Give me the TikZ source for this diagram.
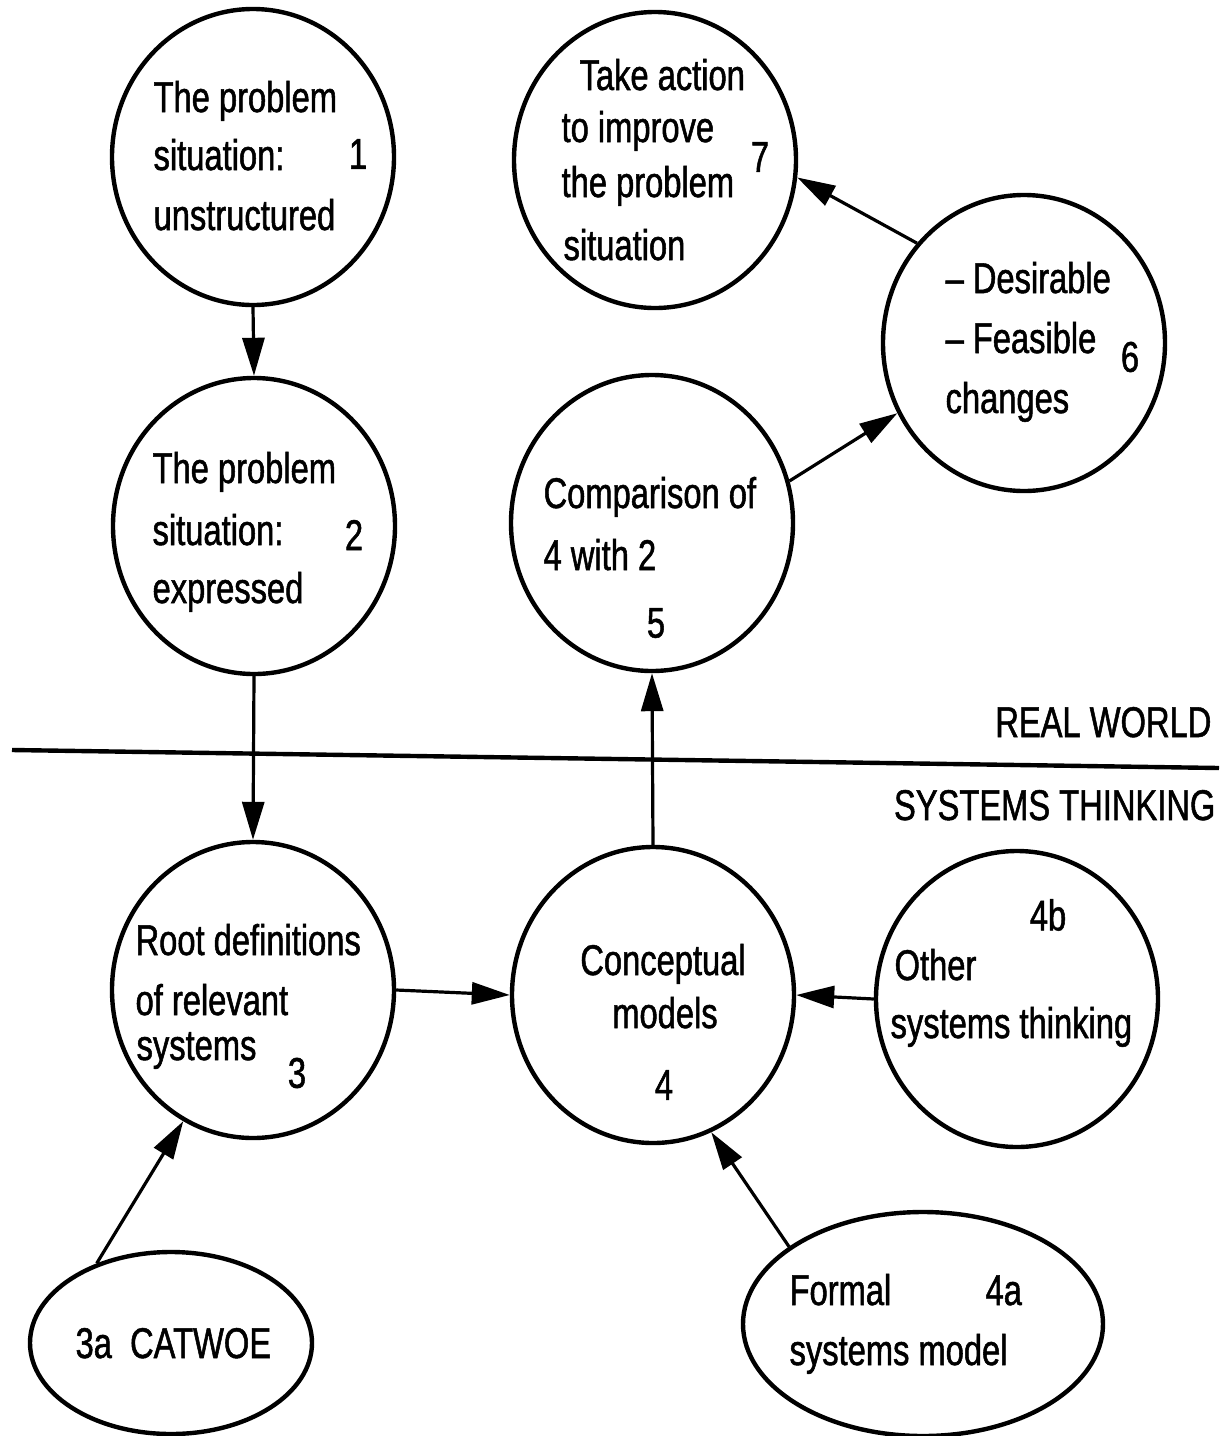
\documentclass[tikz,border=0pt]{standalone}
\usepackage{fontspec}
\setmainfont{Liberation Sans}[FakeStretch=0.76,FakeBold=1.2]
\usepackage{tikz}
\usetikzlibrary{arrows.meta,positioning,shapes,calc}

\newcommand{\sstfont}{\fontsize{21.5pt}{29pt}\selectfont}

\begin{document}
\begin{tikzpicture}[x=0.5pt, y=-0.5pt, >={Triangle[length=19pt,width=11pt]}, line width=1.6pt,
main node/.style={ellipse,draw,line width=2.2pt,minimum width=141pt,minimum height=148pt,inner sep=0pt},
txt/.style={anchor=base west,inner sep=0pt,font=\sstfont},
num/.style={anchor=center,inner sep=0pt,font=\sstfont}]
\useasboundingbox (0,0) rectangle (1223,1436);
\begin{scope}
\node[main node] (c1) at (253,157) {};
\node[main node] (c2) at (254,526) {};
\node[main node] (c7) at (655,160) {};
\node[main node] (c6) at (1024,343) {};
\node[main node] (c5) at (652,523) {};
\node[main node] (c3) at (253,990) {};
\node[main node] (c4) at (653,995) {};
\node[main node] (c4b) at (1017,999) {};
\node[main node,minimum width=141pt,minimum height=91pt] (e3a) at (171,1343) {};
\node[main node,minimum width=180pt,minimum height=112pt] (e4a) at (923,1324) {};
\end{scope}
% texts
\node[txt] (t1a) at (152,112) {The problem};
\node[txt] (t1b) at (152,170) {situation:};
\node[txt] (t1c) at (152,230) {unstructured};
\node[num] (n1) at (358,154) {1};
\node[txt] (t2a) at (151,483) {The problem};
\node[txt] (t2b) at (151,545) {situation:};
\node[txt] (t2c) at (151,603) {expressed};
\node[num] (n2) at (354,535) {2};
\node[txt] (t7a) at (578,90) {Take action};
\node[txt] (t7b) at (560,142) {to improve};
\node[txt] (t7c) at (560,197) {the problem};
\node[txt] (t7d) at (562,260) {situation};
\node[num] (n7) at (760,157) {7};
\node[txt] (t6a) at (944,293) {– Desirable};
\node[txt] (t6b) at (944,353) {– Feasible};
\node[txt] (t6c) at (944,413) {changes};
\node[num] (n6) at (1130,357) {6};
\node[txt] (t5a) at (542,508) {Comparison of};
\node[txt] (t5b) at (542,570) {4 with 2};
\node[num] (n5) at (656,623) {5};
\node[txt] (t3a) at (134,955) {Root definitions};
\node[txt] (t3b) at (134,1015) {of relevant};
\node[txt] (t3c) at (135,1060) {systems};
\node[num] (n3) at (297,1073) {3};
\node[txt,anchor=base] (t4a) at (663,975) {Conceptual};
\node[txt,anchor=base] (t4b) at (665,1028) {models};
\node[num] (n4) at (664,1085) {4};
\node[num] (n4b) at (1048,915) {4b};
\node[txt] (t4ba) at (893,980) {Other};
\node[txt] (t4bb) at (889,1038) {systems thinking};
\node[txt] (t3aa) at (74,1358) {3a~~CATWOE};
\node[txt] (t4aa) at (788,1305) {Formal};
\node[txt] (n4a) at (984,1305) {4a};
\node[txt] (t4ab) at (788,1365) {systems model};
\node[txt,anchor=base east] (rw) at (1213,737) {REAL WORLD};
\node[txt,anchor=base east] (st) at (1217,820) {SYSTEMS THINKING};
% divider
\coordinate (wl) at (12,750);
\coordinate (wr) at (1219,768);
\draw[line width=2.2pt] (wl) -- (wr);
\begin{scope}
\draw[->] (c1.south) -- (c2.north);
\draw[->] (c2.south) -- (c3.north);
\draw[->] (c3.east) -- (c4.west);
\draw[->] (c4.north) -- (c5.south);
\draw[->] (c5.17) -- (c6.209);
\draw[->] (c6.137) -- (c7.353);
\draw[->] (c4b.west) -- (c4.east);
\draw[->] (e3a.133) -- (c3.242);
\draw[->] (e4a.150) -- (c4.293);
\end{scope}
\end{tikzpicture}
\end{document}
